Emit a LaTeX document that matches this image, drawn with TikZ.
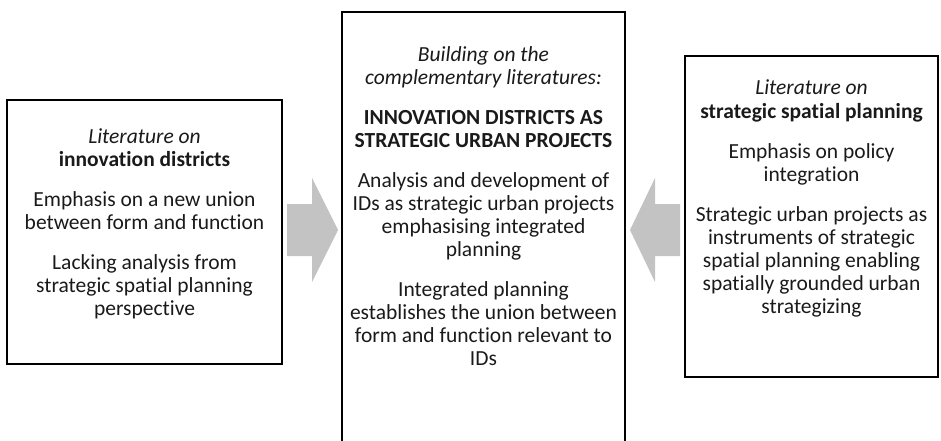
\documentclass[tikz,border=0pt]{standalone}
\usepackage{fontspec}
\setmainfont{Carlito}[Ligatures=NoCommon]
\definecolor{txtcol}{HTML}{1A1A1A}
\definecolor{arrcol}{HTML}{C3C3C3}
\begin{document}
\begin{tikzpicture}[x=1pt,y=-1pt,
  box/.style={draw=black, line width=1.6pt, fill=white, inner sep=0pt},
  txt/.style={align=center, font=\fontsize{21.5}{23}\selectfont, text=txtcol, inner sep=0pt, anchor=north},
  blockarrow/.style={fill=arrcol, draw=none}]
\useasboundingbox (0,0) rectangle (941,440);
\fill[white] (0,0) rectangle (941,440);
\node[box, minimum width=275pt, minimum height=264pt] (L) at (144.5,232) {};
\node[box, minimum width=283pt, minimum height=448pt] (M) at (483.5,236) {};
\node[box, minimum width=253pt, minimum height=321pt] (R) at (811.5,216.5) {};
\fill[blockarrow] (287,204) -- (312,204) -- (312,178) -- (338,230) -- (312,282) -- (312,256) -- (287,256) -- cycle;
\fill[blockarrow] (680,204) -- (655,204) -- (655,178) -- (630,230) -- (655,282) -- (655,256) -- (680,256) -- cycle;
\node[txt] (Lt) at (144.5,128) {\textit{Literature on}\\\textbf{innovation districts}\\[17pt]Emphasis on a new union\\between form and function\\[17pt]Lacking analysis from\\strategic spatial planning\\perspective};
\node[txt] (Mt) at (483.5,46) {\textit{Building on the}\\\textit{complementary literatures:}\\[17pt]\textbf{INNOVATION DISTRICTS AS}\\\textbf{STRATEGIC URBAN PROJECTS}\\[17pt]Analysis and development of\\IDs as strategic urban projects\\emphasising integrated\\planning\\[17pt]Integrated planning\\establishes the union between\\form and function relevant to\\IDs};
\node[txt] (Rt) at (811.5,80) {\textit{Literature on}\\\textbf{strategic spatial planning}\\[17pt]Emphasis on policy\\integration\\[17pt]Strategic urban projects as\\instruments of strategic\\spatial planning enabling\\spatially grounded urban\\strategizing};
\end{tikzpicture}
\end{document}
